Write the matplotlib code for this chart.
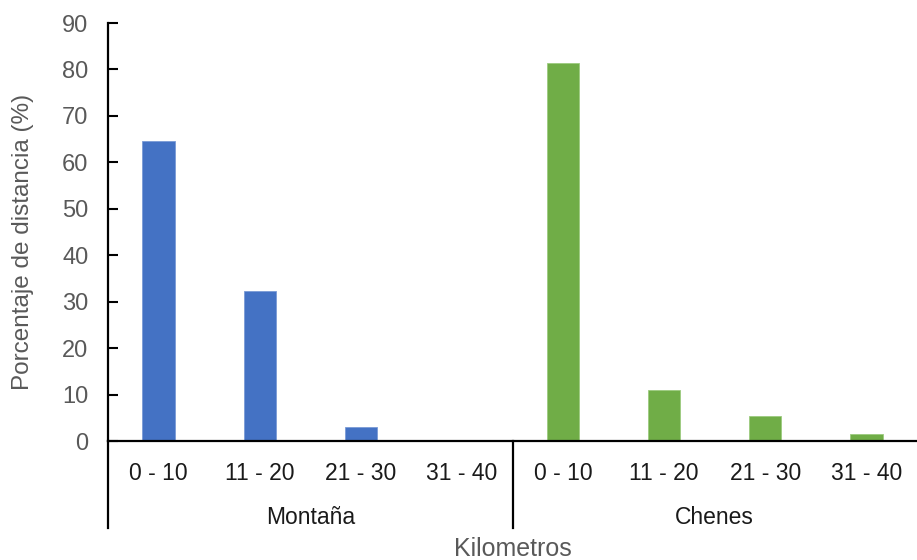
import matplotlib.pyplot as plt
from matplotlib.lines import Line2D

plt.rcParams['font.family'] = ['Liberation Sans', 'DejaVu Sans']

ranges = ["0 - 10", "11 - 20", "21 - 30", "31 - 40"]
groups = ["Montaña", "Chenes"]
montana = [64.5, 32.2, 3.0, 0.0]
chenes = [81.3, 11.0, 5.4, 1.6]

blue = "#4472C4"
green = "#70AD47"
gray = "#595959"

fig = plt.figure(figsize=(9.17, 5.6), dpi=100)
ax = fig.add_axes([0.1178, 0.2125, 0.8822, 0.7464])

n = len(ranges)
x_m = list(range(n))
x_c = list(range(n, 2 * n))
ax.bar(x_m, montana, width=0.32, color=blue, edgecolor="#7A9BD6", linewidth=0.6)
ax.bar(x_c, chenes, width=0.32, color=green, edgecolor="#9CCB7F", linewidth=0.6)

ax.set_xlim(-0.5, 2 * n - 0.5)
ax.set_ylim(0, 90)
ax.set_yticks(range(0, 91, 10))
ax.tick_params(axis="y", direction="in", length=7, width=1.5, labelsize=17,
               labelcolor=gray, pad=14)
ax.set_xticks(x_m + x_c)
ax.set_xticklabels(ranges + ranges)
ax.tick_params(axis="x", length=0, labelsize=16.5, labelcolor="#1a1a1a", pad=15)

for s in ["top", "right"]:
    ax.spines[s].set_visible(False)
for s in ["left", "bottom"]:
    ax.spines[s].set_linewidth(1.6)
    ax.spines[s].set_color("black")

# group separators below the axis
drop = -(528 - 441) / 418
trans = ax.get_xaxis_transform()
for xs in [-0.5, n - 0.5]:
    ax.add_line(Line2D([xs, xs], [0, drop], transform=trans, color="black",
                       linewidth=1.6, clip_on=False))

for i, g in enumerate(groups):
    ax.text(i * n + (n - 1) / 2, -77 / 418, g, transform=trans, ha="center",
            va="center", fontsize=16.5, color="#1a1a1a")

ax.text(0.5, -(549 - 441) / 418, "Kilometros", transform=ax.transAxes,
        ha="center", va="center", fontsize=18, color=gray)
ax.set_ylabel("Porcentaje de distancia (%)", fontsize=17.5, color=gray)
ax.yaxis.set_label_coords(-0.092, 0.476)

fig.savefig("out.png", dpi=100)
